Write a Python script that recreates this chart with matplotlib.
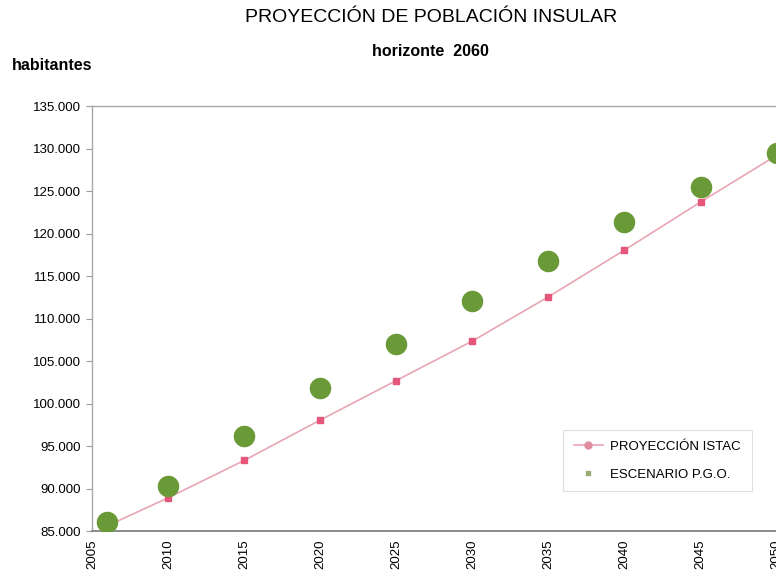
import matplotlib
matplotlib.use("Agg")
import matplotlib.pyplot as plt
from matplotlib.ticker import FuncFormatter
from matplotlib.lines import Line2D
from matplotlib import font_manager

# Population projection data
years = [2006, 2010, 2015, 2020, 2025, 2030, 2035, 2040, 2045, 2050]
istac = [85600, 88900, 93300, 98050, 102700, 107350, 112550, 118050, 123700, 129200]
pgo = [86050, 90350, 96200, 101800, 107000, 112050, 116800, 121300, 125450, 129500]

x_ticks = [2005, 2010, 2015, 2020, 2025, 2030, 2035, 2040, 2045, 2050]
y_ticks = [85000, 90000, 95000, 100000, 105000, 110000, 115000, 120000, 125000, 130000, 135000]

names = {f.name for f in font_manager.fontManager.ttflist}
base = "Liberation Sans Narrow" if "Liberation Sans Narrow" in names else "Liberation Sans"
plt.rcParams["font.family"] = [base, "DejaVu Sans"]

W, H = 776, 584
fig = plt.figure(figsize=(W / 100, H / 100), dpi=100)

left_px, right_px, top_px, bottom_px = 92, 785, 106, 531
ax = fig.add_axes([left_px / W, 1 - bottom_px / H,
                   (right_px - left_px) / W, (bottom_px - top_px) / H])

ax.plot(years, istac, color="#e8a6b4", lw=1.2, marker="s", ms=4.5,
        mfc="#e4567a", mec="#e4567a", label="PROYECCIÓN ISTAC", zorder=2)
ax.plot(years, pgo, linestyle="none", marker="o", ms=14.5,
        mfc="#6a9a38", mec="#6a9a38", label="ESCENARIO P.G.O.", zorder=3)

ax.set_xlim(2005, 2050.55)
ax.set_ylim(85000, 135000)
ax.set_xticks(x_ticks)
ax.set_yticks(y_ticks)
ax.yaxis.set_major_formatter(FuncFormatter(lambda v, p: f"{int(v):,}".replace(",", ".")))
ax.tick_params(axis="x", labelrotation=90, labelsize=9.5, length=0, pad=6)
ax.tick_params(axis="y", labelsize=9.5, length=4, color="#9a9a9a", pad=4)

for s in ("left", "top", "right"):
    ax.spines[s].set_color("#a8a8a8")
    ax.spines[s].set_linewidth(1.0)
ax.spines["bottom"].set_color("#8a8a8a")
ax.spines["bottom"].set_linewidth(1.4)

# Legend with compact markers
handles = [
    Line2D([], [], color="#e8a6b4", lw=1.2, marker="o", ms=5,
           mfc="#e08ca0", mec="#e08ca0"),
    Line2D([], [], linestyle="none", marker="s", ms=3.5,
           mfc="#9aaa70", mec="#9aaa70"),
]
leg = ax.legend(handles, ["PROYECCIÓN ISTAC", "ESCENARIO P.G.O."],
                loc="upper left", bbox_to_anchor=((563 - left_px) / (right_px - left_px),
                                                  (bottom_px - 430) / (bottom_px - top_px)),
                frameon=True, fancybox=False, fontsize=9.5, handlelength=2.2,
                handletextpad=0.6, labelspacing=1.2, borderpad=0.8,
                borderaxespad=0)
leg.get_frame().set_edgecolor("#d8d8d8")
leg.get_frame().set_linewidth(0.8)

fig.text(431 / W, 1 - 18 / H, "PROYECCIÓN DE POBLACIÓN INSULAR",
         ha="center", va="center", fontsize=14)
fig.text(430 / W, 1 - 51 / H, "horizonte  2060",
         ha="center", va="center", fontsize=11.5, fontweight="bold")
fig.text(12 / W, 1 - 66 / H, "habitantes",
         ha="left", va="center", fontsize=11.5, fontweight="bold")

fig.savefig("out.png", dpi=100)
